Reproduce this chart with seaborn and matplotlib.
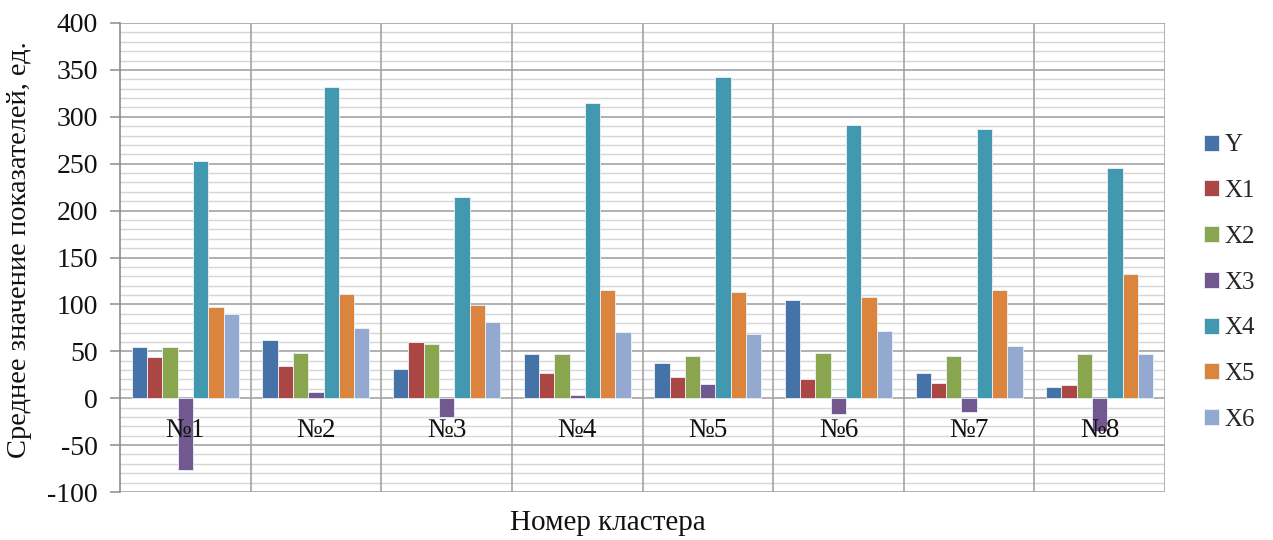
import matplotlib
matplotlib.use("Agg")
import matplotlib.pyplot as plt
from matplotlib.ticker import MultipleLocator
import numpy as np
import pandas as pd
import seaborn as sns

clusters = ["№1", "№2", "№3", "№4", "№5", "№6", "№7", "№8"]
series = ["Y", "X1", "X2", "X3", "X4", "X5", "X6"]

y_vals  = [55, 62, 31, 47, 37, 105, 27, 12]
x1_vals = [44, 34, 60, 27, 23, 21, 16, 14]
x2_vals = [55, 48, 58, 47, 45, 48, 45, 47]
x3_vals = [-77, 7, -20, 3, 15, -17, -15, -35]
x4_vals = [253, 332, 215, 315, 342, 291, 287, 245]
x5_vals = [97, 111, 99, 115, 113, 108, 115, 132]
x6_vals = [90, 75, 81, 71, 68, 72, 56, 47]

y_ticks = [-100, -50, 0, 50, 100, 150, 200, 250, 300, 350, 400]

colors = ["#4572A7", "#AA4643", "#89A54E", "#71588F", "#4198AF", "#DB843D", "#93A9CF"]

values = [y_vals, x1_vals, x2_vals, x3_vals, x4_vals, x5_vals, x6_vals]
df = pd.DataFrame({
    "cluster": np.repeat([clusters], len(series), axis=0).ravel(),
    "series": np.repeat(series, len(clusters)),
    "value": np.concatenate(values),
})

sns.set_theme(style="white")
plt.rcParams["font.family"] = ["Liberation Serif", "DejaVu Serif"]

fig = plt.figure(figsize=(12.73, 5.40), dpi=100)
ax = fig.add_axes([120 / 1273, 1 - 492 / 540, 1045 / 1273, 469 / 540])

sns.barplot(data=df, x="cluster", y="value", hue="series", order=clusters,
            hue_order=series, palette=colors, saturation=1, width=0.82, gap=0,
            edgecolor="#eef2f8", linewidth=0.6, errorbar=None,
            legend=True, ax=ax, zorder=3)

ax.set_xlim(-0.5, len(clusters) - 0.5)
ax.set_ylim(-100, 400)

# horizontal grid: light lines every 10, darker every 50
for v in range(-100, 401, 10):
    major = v % 50 == 0
    ax.axhline(v, color="#a3a3a3" if major else "#d6d6d6",
               lw=1.2 if major else 1.0, zorder=1 if major else 0.5)
# vertical separators between clusters
for b in np.arange(0.5, len(clusters) - 0.5, 1.0):
    ax.axvline(b, color="#a3a3a3", lw=1.2, zorder=1)
ax.axvline(len(clusters) - 0.5, color="#a3a3a3", lw=1.2, zorder=1)

for side in ["top", "right", "bottom"]:
    ax.spines[side].set_visible(False)
ax.spines["left"].set_color("#8c8c8c")
ax.spines["left"].set_linewidth(1.2)

ax.set_yticks(y_ticks)
ax.set_yticklabels([str(t) for t in y_ticks])
ax.tick_params(axis="y", which="major", direction="out", length=7, width=1.1,
               color="#8c8c8c", pad=9, labelsize=20, labelcolor="#111111", left=True)
ax.yaxis.set_minor_locator(MultipleLocator(10))
ax.tick_params(axis="y", which="minor", length=0)

# cluster names sit just under the zero line, over the bars
ax.set_xticks([])
for i, name in enumerate(clusters):
    ax.text(i, -34, name, ha="center", va="center", fontsize=19.5,
            color="#111111", zorder=6)

ax.set_xlabel("Номер кластера", fontsize=21, color="#111111", va="center")
ax.xaxis.set_label_coords((608 - 120) / 1045, -(523 - 492) / 469)
ax.set_ylabel("Среднее значение показателей, ед.", fontsize=20.5, color="#111111",
              va="center")
ax.yaxis.set_label_coords((20 - 120) / 1045, (492 - 250) / 469)

handles, labels = ax.get_legend_handles_labels()
ax.get_legend().remove()
fig.legend(handles, labels, loc="upper left", bbox_to_anchor=(1191 / 1273, 1 - 122 / 540),
           frameon=False, fontsize=18, labelspacing=0.95, handlelength=0.6,
           handleheight=0.6, handletextpad=0.25, borderpad=0)

fig.savefig("out.png", dpi=100, facecolor="white")
